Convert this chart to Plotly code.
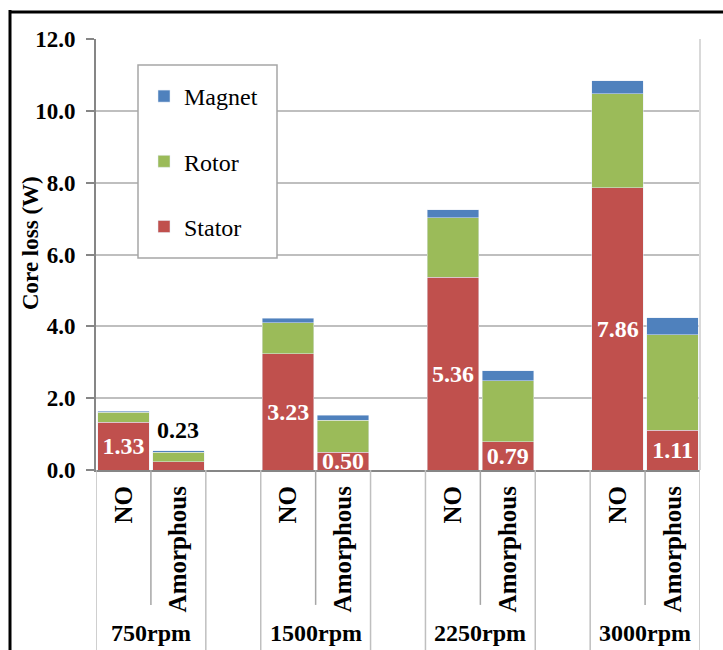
import plotly.graph_objects as go

# Core loss breakdown per speed and core material
speeds = ["750rpm", "1500rpm", "2250rpm", "3000rpm"]
materials = ["NO", "Amorphous"]

# values ordered: speed by speed, NO then Amorphous
stator = [1.33, 0.23, 3.23, 0.50, 5.36, 0.79, 7.86, 1.11]
rotor = [0.28, 0.27, 0.87, 0.89, 1.66, 1.69, 2.61, 2.65]
magnet = [0.02, 0.04, 0.12, 0.14, 0.22, 0.28, 0.37, 0.48]

y_ticks = [0, 2, 4, 6, 8, 10, 12]

FONT = "Liberation Serif"
C_STATOR = "#c0504d"
C_ROTOR = "#9bbb59"
C_MAGNET = "#4f81bd"
AXIS_GREY = "#868686"

# each speed group takes three slots: NO, Amorphous, spacer
slot_x = []
slot_text = []
for g, _ in enumerate(speeds):
    for m, mat in enumerate(materials):
        slot_x.append(3 * g + m)
        slot_text.append(mat)

# stator values are printed inside the bars, except where the segment is too thin
outside_idx = [1]
stator_text = ["" if i in outside_idx else f"{v:.2f}" for i, v in enumerate(stator)]

fig = go.Figure()
fig.add_trace(go.Bar(
    name="Stator", x=slot_x, y=stator, marker_color=C_STATOR, width=0.94,
    text=stator_text, textposition="inside", insidetextanchor="middle",
    textangle=0, constraintext="none", cliponaxis=False,
    textfont=dict(family=FONT, size=24, color="white", weight="bold"),
    legendgroup="s", legendrank=3,
))
fig.add_trace(go.Bar(
    name="Rotor", x=slot_x, y=rotor, marker_color=C_ROTOR, width=0.94,
    legendgroup="r", legendrank=2,
))
fig.add_trace(go.Bar(
    name="Magnet", x=slot_x, y=magnet, marker_color=C_MAGNET, width=0.94,
    legendgroup="m", legendrank=1,
))

annotations = []
for i in outside_idx:
    total = stator[i] + rotor[i] + magnet[i]
    annotations.append(dict(
        x=slot_x[i], y=total, xref="x", yref="y", text=f"{stator[i]:.2f}",
        showarrow=False, yanchor="bottom", yshift=6,
        font=dict(family=FONT, size=24, color="black", weight="bold"),
    ))

# group labels under the material labels
for g, sp in enumerate(speeds):
    annotations.append(dict(
        x=3 * g + 0.5, y=-0.378, xref="x", yref="paper", text=sp,
        showarrow=False, yanchor="middle",
        font=dict(family=FONT, size=24, color="black", weight="bold"),
    ))

# y-axis title
annotations.append(dict(
    x=(30 - 96) / 604, y=(470 - 243) / 431, xref="paper", yref="paper",
    text="Core loss (W)", textangle=-90, showarrow=False,
    xanchor="center", yanchor="middle",
    font=dict(family=FONT, size=23, color="black", weight="bold"),
))

shapes = []
# category dividers below the axis
n_slots = 3 * len(speeds) - 1
for k in range(n_slots + 1):
    xb = k - 0.5
    short = (k % 3 == 1)
    shapes.append(dict(
        type="line", xref="x", yref="paper", x0=xb, x1=xb, y0=0,
        y1=-0.313 if short else -0.46,
        line=dict(color="#a6a6a6" if short else "#bfbfbf", width=1.5),
    ))
# right border of the plot area
shapes.append(dict(type="line", xref="paper", yref="paper", x0=1, x1=1, y0=0, y1=1,
                   line=dict(color="#d9d9d9", width=2)))
# legend frame
shapes.append(dict(type="rect", xref="paper", yref="paper",
                   x0=(138 - 96) / 604, x1=(277 - 96) / 604,
                   y0=(470 - 258) / 431, y1=(470 - 65) / 431,
                   fillcolor="white", line=dict(color="#a6a6a6", width=1.5),
                   layer="above"))
# outer frame
shapes.append(dict(type="line", xref="paper", yref="paper",
                   x0=(10 - 96) / 604, x1=(10 - 96) / 604, y0=-0.5, y1=(470 - 10) / 431,
                   line=dict(color="black", width=3)))
shapes.append(dict(type="line", xref="paper", yref="paper",
                   x0=(10 - 96) / 604, x1=1.1, y0=(470 - 12) / 431, y1=(470 - 12) / 431,
                   line=dict(color="black", width=3)))

fig.update_layout(
    width=723, height=650,
    margin=dict(l=96, r=23, t=39, b=180),
    paper_bgcolor="white", plot_bgcolor="white",
    barmode="stack",
    font=dict(family=FONT, size=20, color="black"),
    showlegend=True,
    legend=dict(
        x=(144 - 96) / 604, y=(470 - 74) / 431, xanchor="left", yanchor="top",
        bgcolor="rgba(0,0,0,0)", borderwidth=0,
        traceorder="grouped", tracegroupgap=31,
        font=dict(family=FONT, size=24, color="black"),
    ),
    xaxis=dict(
        range=[-0.5, n_slots - 0.5], tickvals=slot_x, ticktext=slot_text,
        tickangle=-90, ticks="", showgrid=False, zeroline=False,
        showline=True, linecolor=AXIS_GREY, linewidth=2,
        ticklabelstandoff=4,
        tickfont=dict(family=FONT, size=25, color="black", weight="bold"),
    ),
    yaxis=dict(
        range=[0, 12], tickvals=y_ticks, tickformat=".1f",
        showgrid=True, gridcolor="#bfbfbf", gridwidth=1.5, zeroline=False,
        showline=True, linecolor=AXIS_GREY, linewidth=2,
        ticks="outside", ticklen=8, tickcolor=AXIS_GREY, tickwidth=2,
        ticklabelstandoff=6,
        tickfont=dict(family=FONT, size=23, color="black", weight="bold"),
    ),
    shapes=shapes,
    annotations=annotations,
)

fig.write_html("out.html")
